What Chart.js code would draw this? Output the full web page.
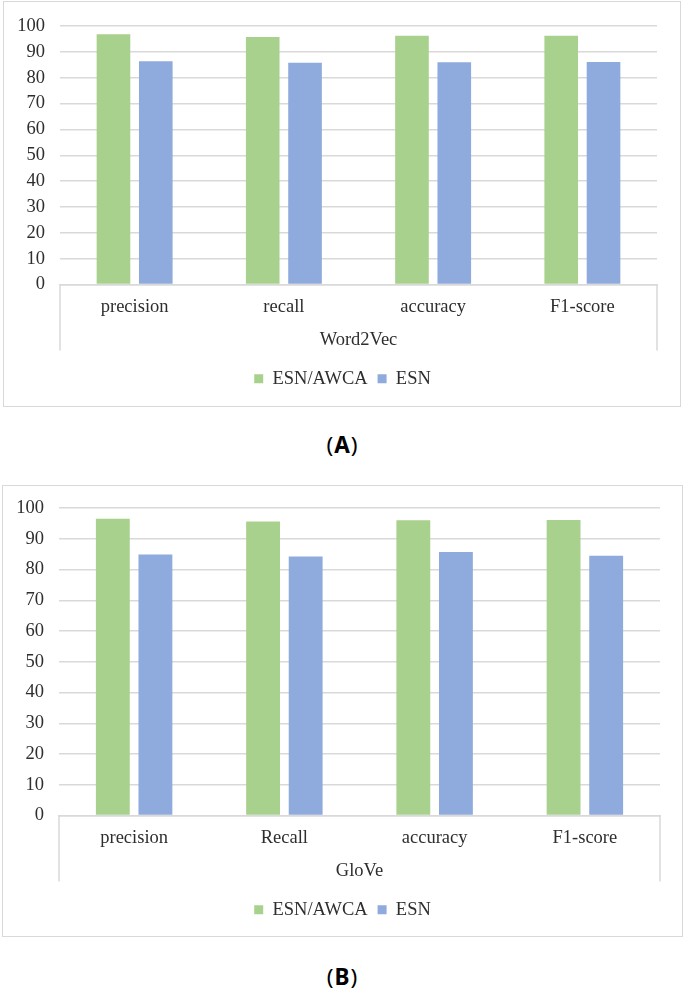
<!DOCTYPE html>
<html>
<head>
<meta charset="utf-8">
<script src="https://cdn.jsdelivr.net/npm/chart.js@4.4.0/dist/chart.umd.min.js"></script>
<style>
  html, body { margin: 0; padding: 0; background: #fff; }
  body { width: 685px; height: 988px; position: relative; overflow: hidden; }
  .frame { position: absolute; box-sizing: border-box; border: 1.5px solid #d9d9d9; }
  .cv { position: absolute; left: 0; }
  .cap { position: absolute; left: 0; width: 685px; text-align: center; letter-spacing: 1px;
         font-family: "Noto Sans", sans-serif; font-size: 22.5px; line-height: 22px; color: #000; }
  .cap b { font-weight: 700; }
</style>
</head>
<body>
<div class="frame" style="left:3px; top:1px; width:678px; height:406px;"></div>
<div class="cv" style="top:0px; width:685px; height:420px;"><canvas id="chartA"></canvas></div>
<div class="cap" style="top:434px;">(<b>A</b>)</div>

<div class="frame" style="left:2px; top:485px; width:681px; height:452px;"></div>
<div class="cv" style="top:480px; width:685px; height:470px;"><canvas id="chartB"></canvas></div>
<div class="cap" style="top:966px;">(<b>B</b>)</div>

<script>
// ---- data ----
const categoriesA = ["precision", "recall", "accuracy", "F1-score"];
const esnAwcaA = [96.8, 95.8, 96.3, 96.3];
const esnA = [86.4, 85.8, 86.0, 86.1];
const groupA = "Word2Vec";

const categoriesB = ["precision", "Recall", "accuracy", "F1-score"];
const esnAwcaB = [96.5, 95.6, 96.0, 96.1];
const esnB = [84.9, 84.2, 85.7, 84.5];
const groupB = "GloVe";

const seriesNames = ["ESN/AWCA", "ESN"];
const yTicks = [0, 10, 20, 30, 40, 50, 60, 70, 80, 90, 100];

// ---- styles ----
const GREEN = "#a9d18e";
const BLUE = "#8faadc";
const GRID = "#d9d9d9";
const TEXT = "#2e2e2e";
const SERIF = "'Liberation Serif', 'Times New Roman', serif";
const FS = 18.5;

const boxLines = {
  id: "boxLines",
  afterDraw(chart) {
    const a = chart.chartArea, ctx = chart.ctx;
    const depth = chart.options.plugins.boxLines.depth;
    ctx.save();
    ctx.strokeStyle = GRID;
    ctx.lineWidth = 1.5;
    ctx.beginPath();
    ctx.moveTo(a.left, a.bottom);
    ctx.lineTo(a.left, a.bottom + depth);
    ctx.moveTo(a.right, a.bottom);
    ctx.lineTo(a.right, a.bottom + depth);
    ctx.stroke();
    ctx.restore();
  }
};

function makeChart(id, cats, g, b, group, cfg) {
  return new Chart(document.getElementById(id), {
    type: "bar",
    data: {
      labels: cats,
      datasets: [
        { label: seriesNames[0], data: g, backgroundColor: GREEN },
        { label: seriesNames[1], data: b, backgroundColor: BLUE }
      ]
    },
    plugins: [boxLines],
    options: {
      responsive: true,
      maintainAspectRatio: false,
      animation: false,
      datasets: { bar: { categoryPercentage: 0.567, barPercentage: 0.795 } },
      layout: { padding: { top: cfg.top, right: 0, bottom: cfg.bottom, left: 0 } },
      scales: {
        y: {
          min: 0, max: 100,
          afterBuildTicks(scale) { scale.ticks = yTicks.map(v => ({ value: v })); },
          afterFit(scale) { scale.width = cfg.left; },
          grid: { color: GRID, lineWidth: 1.5, drawTicks: false },
          border: { display: false },
          ticks: { padding: 15, color: TEXT, font: { family: SERIF, size: FS } }
        },
        spacer: {
          type: "linear", position: "right", min: 0, max: 100,
          afterFit(scale) { scale.width = cfg.right; },
          grid: { display: false, drawTicks: false },
          border: { display: false },
          ticks: { display: false }
        },
        x: {
          afterFit(scale) { scale.height = 75; },
          grid: { display: false, drawTicks: false },
          border: { display: true, color: GRID, width: 1.5 },
          ticks: { padding: 12, color: TEXT, font: { family: SERIF, size: FS }, maxRotation: 0 },
          title: { display: true, text: group, color: TEXT,
                   font: { family: SERIF, size: FS }, padding: { top: 0, bottom: cfg.titlePad } }
        }
      },
      plugins: {
        boxLines: { depth: 66 },
        tooltip: { enabled: false },
        legend: {
          position: "bottom",
          labels: { boxWidth: 9, boxHeight: 9, padding: 10, color: TEXT,
                    font: { family: SERIF, size: FS } }
        }
      }
    }
  });
}

makeChart("chartA", categoriesA, esnAwcaA, esnA, groupA,
  { top: 23, right: 28, bottom: 22, left: 60, titlePad: 8 });
makeChart("chartB", categoriesB, esnAwcaB, esnB, groupB,
  { top: 28, right: 25, bottom: 21, left: 59, titlePad: 8.5 });
</script>
</body>
</html>
